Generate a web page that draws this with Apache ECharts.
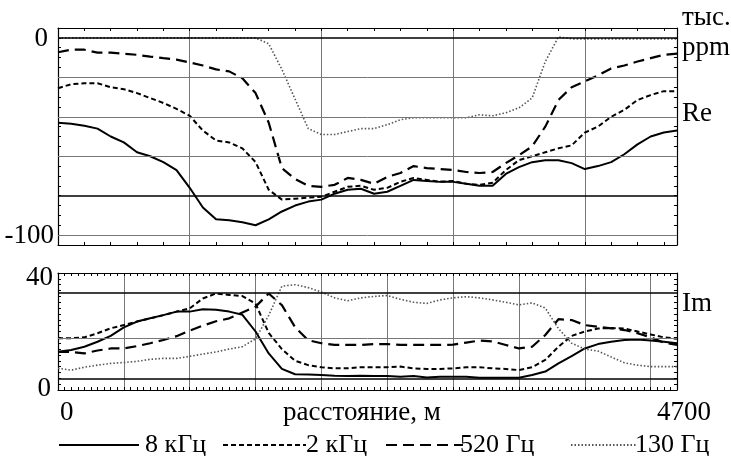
<!DOCTYPE html>
<html><head><meta charset="utf-8">
<script src="https://cdn.jsdelivr.net/npm/echarts@6/dist/echarts.min.js"></script>
<style>html,body{margin:0;padding:0;background:#fff}#c{width:731px;height:456px}</style>
</head><body><div id="c"></div>
<script>
// distance along profile, m
const distance = [0,100,200,300,400,500,600,700,800,900,1000,1100,1200,1300,1400,1500,1600,1700,1800,1900,2000,2100,2200,2300,2400,2500,2600,2700,2800,2900,3000,3100,3200,3300,3400,3500,3600,3700,3800,3900,4000,4100,4200,4300,4400,4500,4600,4700];
const seriesNames = ['8 кГц','2 кГц','520 Гц','130 Гц'];
// Re, thousand ppm
const re8k  = [-43,-43.5,-44.5,-46,-50,-53,-58,-60,-63,-67,-76,-86,-92,-92.5,-93.5,-95,-92,-88,-85,-83,-82,-79,-77,-76.5,-79,-78,-75,-72,-72.5,-73,-73,-74,-75,-75,-69,-65.5,-63,-62,-62,-63.5,-66.5,-65,-63,-59,-54,-50,-48,-47];
const re2k  = [-25.5,-23.5,-23,-23,-25,-26,-28,-30.5,-33,-36,-39.5,-47,-52,-53,-56,-63,-77,-82,-81.5,-81,-80.5,-78,-75.5,-75,-77,-76,-73,-71,-72,-73,-72.5,-74,-74.5,-73.5,-67,-62,-60,-58,-56,-54.5,-48,-45,-40,-36.5,-31.5,-29,-27,-27];
const re520 = [-7.3,-6,-6,-7.5,-7.5,-8,-8.6,-9.5,-10.3,-11,-12.5,-14,-16,-17,-20.5,-28,-43,-66,-71.5,-75,-75.5,-74.5,-71,-72,-74,-70.5,-68.5,-65,-66,-66.5,-67,-68,-68.5,-68,-63.5,-59.5,-55,-45,-31.5,-25,-22,-19,-15.5,-14,-12,-10.3,-8.6,-8];
const re130 = [0,0,0,0,0,0,0,0,0,0,0,0,0,0,0,0,-3,-16,-31,-46,-49,-49,-47.5,-46,-46,-44,-41.5,-40.5,-40.5,-40.5,-40.5,-40.5,-39,-39.5,-38,-35.5,-30.5,-12,0.5,-0.5,-0.5,-0.5,-0.5,-0.5,-0.5,-0.5,-0.5,-0.5];
// Im, thousand ppm
const im8k  = [13.1,13.7,14.8,16.5,18.5,21.4,23.4,24.5,25.6,26.8,26.8,27.6,27.4,26.8,25.7,20,12.5,7.2,5.4,5.3,5.1,4.9,4.8,4.9,4.8,4.8,4.5,4.8,4.3,4.5,4.5,4.5,4.2,4.2,4.2,4.2,5.1,6.3,9.1,11.6,14.2,15.7,16.5,17.1,17.3,16.9,16.5,16];
const im2k  = [17.7,17.7,18,19.4,21.1,22.2,23.4,24.5,25.6,26.8,27.9,31.3,33,32.5,32.1,29.5,19.5,14,10,8.5,7.8,7.4,7.4,7.8,7.8,7.8,8,7.4,7.2,7.2,7.4,7.8,7.8,7.4,7.2,6.8,7.8,10.3,14.8,18.5,20,21,21.2,21,20,19,18,17.5];
const im520 = [13,13,12.5,13.5,14.2,14.2,15,16,17.1,18.4,20.3,22,23.5,24.5,26.5,28.5,33,29,21.5,17,16,15.4,15.4,15.4,15.7,15.7,15.4,15.4,15.4,15.4,15.5,16.2,16.9,16.6,15.4,14.2,14.8,18.8,24.2,23.9,22.2,21.6,21.1,20.5,19.4,18,16.2,15.4];
const im130 = [7.4,6.8,7.8,8.5,9.1,9.4,9.8,10.5,10.8,10.8,11.5,12.3,13,14,14.8,17.5,25.5,35.5,36,35,33.5,31.5,30.5,31.5,32,32.3,31,30,29.6,30.8,31.5,31.9,31.5,30.8,30,29.1,29.8,28,21,16,14,13.3,11.3,9.3,8.5,8,8,8];
// reference lines
const reGrid = [-20,-40,-60,-100];
const reBold = [0,-80];
const imGrid = [17.8];
const imBold = [3.8,33.2];

const FONT = 'Liberation Serif';
const FS = 27;
const LFS = 26;
const lineStyles = [
  {color:'#000', width:2, type:'solid'},
  {color:'#000', width:2, type:[5,3]},
  {color:'#000', width:2.2, type:[11,6]},
  {color:'#555', width:1.6, type:[1.5,2]}
];
const reData = [re8k, re2k, re520, re130];
const imData = [im8k, im2k, im520, im130];

function pairs(vals){ return distance.map((d,i)=>[d, vals[i]]); }

function xAx(grid, pos, interval, minorSplit, split){
  return {gridIndex:grid, type:'value', min:0, max:4700, interval:interval, position:pos,
    axisLine:{show:true, onZero:false, lineStyle:{color:'#000', width:1.2}},
    axisTick:{show:true, inside:true, length:3, lineStyle:{color:'#000'}},
    minorTick:{show:true, splitNumber:minorSplit, length:3, lineStyle:{color:'#000'}},
    axisLabel:{show:false},
    splitLine:{show:split, lineStyle:{color:'#777', width:1}}};
}
function yAx(grid, pos, min, max, interval){
  return {gridIndex:grid, type:'value', min:min, max:max, interval:interval, position:pos,
    axisLine:{show:true, onZero:false, lineStyle:{color:'#000', width:1.2}},
    axisTick:{show:true, inside:true, length:3, lineStyle:{color:'#000'}},
    axisLabel:{show:false}, splitLine:{show:false}};
}
function refLines(grid, thin, bold){
  return {type:'line', xAxisIndex:grid*2, yAxisIndex:grid*2, data:[], z:1, silent:true,
    markLine:{silent:true, symbol:'none', label:{show:false}, animation:false,
      data: thin.map(v=>({yAxis:v, lineStyle:{color:'#777', width:1, type:'solid'}}))
        .concat(bold.map(v=>({yAxis:v, lineStyle:{color:'#000', width:1.6, type:'solid'}})))}};
}

const series = [refLines(0, reGrid, reBold), refLines(1, imGrid, imBold)];
seriesNames.forEach((n,k)=>{
  series.push({name:n, type:'line', xAxisIndex:0, yAxisIndex:0, data:pairs(reData[k]),
    showSymbol:false, symbol:'none', lineStyle:lineStyles[k], itemStyle:{color:lineStyles[k].color}, z:3});
});
seriesNames.forEach((n,k)=>{
  series.push({name:n, type:'line', xAxisIndex:2, yAxisIndex:2, data:pairs(imData[k]),
    showSymbol:false, symbol:'none', lineStyle:lineStyles[k], itemStyle:{color:lineStyles[k].color}, z:3});
});

const legendPos = [{left:53,w:80,pad:1},{left:217,w:83,pad:-5},{left:380,w:77,pad:-8},{left:565,w:65,pad:-6}];
const legends = seriesNames.map((n,k)=>({
  data:[n], left:legendPos[k].left, top:427, itemWidth:legendPos[k].w, itemHeight:12,
  selectedMode:false, itemStyle:{opacity:0, borderWidth:0},
  textStyle:{fontFamily:FONT, fontSize:LFS, color:'#000', padding:[0,0,0,legendPos[k].pad]}
}));

function txt(t, x, y, align){
  return {type:'text', x:x, y:y, silent:true,
    style:{text:t, fontFamily:FONT, fontSize:FS, fill:'#000', textAlign:align||'left', textVerticalAlign:'middle'}};
}

const chart = echarts.init(document.getElementById('c'), null, {renderer:'canvas'});
chart.setOption({
  animation:false,
  backgroundColor:'#fff',
  textStyle:{fontFamily:FONT},
  grid:[{left:58, right:54, top:28, height:217}, {left:58, right:54, top:273, height:117}],
  xAxis:[xAx(0,'bottom',1000,5,true), xAx(0,'top',1000,5,false), xAx(1,'bottom',500,10,true), xAx(1,'top',500,10,false)],
  yAxis:[yAx(0,'left',-105,5,5), yAx(0,'right',-105,5,5), yAx(1,'left',0,40,2), yAx(1,'right',0,40,2)],
  legend:legends,
  series:series,
  graphic:[
    txt('тыс.', 682, 18), txt('ppm', 682, 48), txt('Re', 682, 114), txt('Im', 682, 304),
    txt('0', 48, 39, 'right'), txt('-100', 54, 236, 'right'),
    txt('40', 53, 278, 'right'), txt('0', 51, 389, 'right'),
    txt('0', 60, 413), txt('расстояние, м', 362, 413, 'center'), txt('4700', 711, 413, 'right')
  ]
});
</script></body></html>
